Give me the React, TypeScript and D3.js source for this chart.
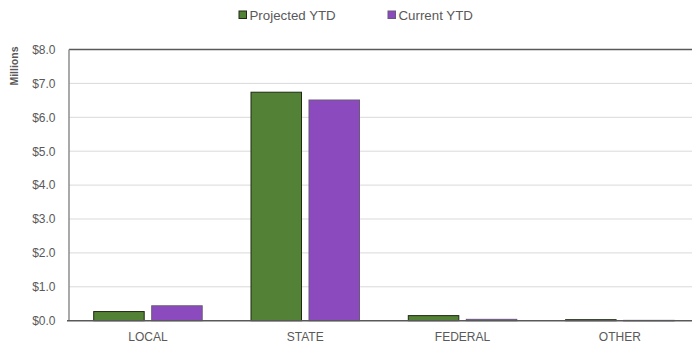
import React from "react";
import * as d3 from "d3";

const categories = ["LOCAL", "STATE", "FEDERAL", "OTHER"];
const projectedYTD = [0.27, 6.74, 0.15, 0.03];
const currentYTD = [0.44, 6.51, 0.04, 0.01];
const yTicks = [0, 1, 2, 3, 4, 5, 6, 7, 8];
const seriesNames = ["Projected YTD", "Current YTD"];

const W = 692, H = 343;
const left = 69, right = 698.5, top = 49.5, bottom = 320.7;
const font = "'Liberation Sans', Arial, sans-serif";

export default function App() {
  const x = d3.scaleBand<string>().domain(categories).range([left + 0.3, right]);
  const y = d3.scaleLinear().domain([0, 8]).range([bottom, top]);
  const barW = 50.5;
  const gap = 7.5;
  const series = [
    { name: seriesNames[0], values: projectedYTD, fill: "#538135", stroke: "#1e2a14" },
    { name: seriesNames[1], values: currentYTD, fill: "#8B4BBF", stroke: "#6a5a78" },
  ];
  return (
    <svg width={W} height={H} style={{ position: "absolute", left: 0, top: 0, fontFamily: font }}>
      {yTicks.slice(1).map((t) => (
        <line key={t} x1={left} x2={W} y1={y(t)} y2={y(t)} stroke="#d9d9d9" strokeWidth={1} />
      ))}
      {categories.map((c, i) => {
        const cx = x(c)! + x.bandwidth() / 2;
        return series.map((s, j) => {
          const x0 = j === 0 ? cx - gap / 2 - barW : cx + gap / 2;
          const yv = y(s.values[i]);
          return (
            <rect key={c + j} x={x0} y={yv} width={barW} height={Math.max(bottom - yv, 0.5)}
              fill={s.fill} stroke={s.stroke} strokeWidth={1} />
          );
        });
      })}
      <line x1={left} x2={W} y1={top} y2={top} stroke="#595959" strokeWidth={1.5} />
      <line x1={left} x2={left} y1={top} y2={bottom} stroke="#8c8c8c" strokeWidth={1.5} />
      <line x1={left - 2} x2={W} y1={bottom} y2={bottom} stroke="#595959" strokeWidth={1.5} />
      {yTicks.map((t) => (
        <text key={t} x={55.5} y={y(t)} dy="0.36em" textAnchor="end" fontSize={12} fill="#595959">
          {"$" + d3.format(".1f")(t)}
        </text>
      ))}
      {categories.map((c) => (
        <text key={c} x={x(c)! + x.bandwidth() / 2} y={340.5} textAnchor="middle" fontSize={12} fill="#595959">
          {c}
        </text>
      ))}
      <text transform={`translate(18,66) rotate(-90)`} textAnchor="middle" fontSize={10.5} fontWeight="bold" fill="#595959">
        Millions
      </text>
      {series.map((s, j) => {
        const lx = j === 0 ? 239 : 388;
        return (
          <g key={s.name}>
            <rect x={lx} y={11} width={7.5} height={7.5} fill={s.fill} stroke={s.stroke} strokeWidth={1} />
            <text x={lx + 10.5} y={19.5} fontSize={13.3} fill="#595959">{s.name}</text>
          </g>
        );
      })}
    </svg>
  );
}
